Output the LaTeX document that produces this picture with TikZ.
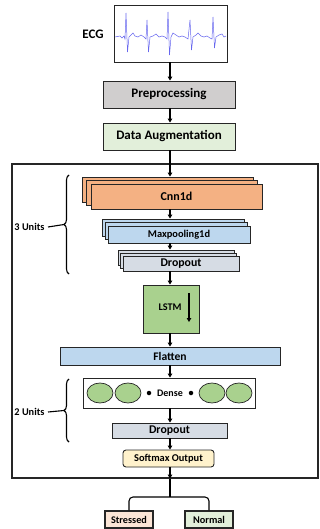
\documentclass[tikz,border=0pt]{standalone}
\usepackage{fontspec}
\setmainfont{Carlito}
\usetikzlibrary{positioning,arrows.meta,calc,decorations.pathreplacing,shapes.geometric}
\definecolor{prepgray}{HTML}{D0CECE}
\definecolor{auggreen}{HTML}{E2EFDA}
\definecolor{cnnorange}{HTML}{F4B183}
\definecolor{poolblue}{HTML}{BDD7EE}
\definecolor{dropgray}{HTML}{D6DCE4}
\definecolor{lstmgreen}{HTML}{A9D18E}
\definecolor{softyellow}{HTML}{FFF2CC}
\definecolor{stressred}{HTML}{FBE5D6}
\definecolor{ecgblue}{HTML}{6666EE}
\newcommand{\fs}[1]{\fontsize{#1}{#1}\selectfont\bfseries}

\begin{document}
\begin{tikzpicture}[
    x=1pt, y=-1pt,
    box/.style={draw=black!85, line width=0.9pt, inner sep=0pt, align=center},
    arr/.style={-{Triangle[length=4pt,width=4.5pt]}, line width=1.1pt},
    wire/.style={line width=1.1pt},
    brc/.style={decorate, decoration={brace, amplitude=5pt}, line width=1.1pt}
  ]
    \useasboundingbox (0,0) rectangle (320,529);

    % input signal
    \node[box, minimum width=113pt, minimum height=57pt] (ecg) at (170.5,33.5) {};
    \node[font=\fs{13}] (ecglabel) at (93,34) {ECG};
    \draw[ecgblue, line width=0.5pt]
      (115,37) -- (120,36) -- (122,38) -- (124,36) -- (125,39) -- (126,13) -- (127.5,52) -- (129,37)
      -- (131,35) -- (133,33) -- (135,36) -- (138,37) -- (141,35) -- (144,37) -- (146,39)
      -- (147,20) -- (148.5,52) -- (150,37) -- (153,36) -- (156,34) -- (159,37) -- (162,36)
      -- (165,37) -- (167,39) -- (168,12) -- (169.5,55) -- (171,37) -- (173,33) -- (176,35)
      -- (179,37) -- (182,36) -- (185,37) -- (188,39) -- (190,20) -- (191.5,50) -- (193,37)
      -- (196,35) -- (198,33) -- (201,36) -- (204,37) -- (207,36) -- (210,38) -- (212,39)
      -- (213,17) -- (214.5,48) -- (216,37) -- (219,35) -- (222,34) -- (224,37) -- (226,36);

    \node[box, fill=prepgray, minimum width=132pt, minimum height=27pt, font=\fs{13}] (pre) at (169,94.5) {Preprocessing};
    \node[box, fill=auggreen, minimum width=132pt, minimum height=27pt, font=\fs{13}] (aug) at (169,136.5) {Data Augmentation};

    % model frame
    \node[draw=black!85, line width=1.1pt, minimum width=306pt, minimum height=314pt, inner sep=0pt] (frame) at (165,321) {};
    \coordinate (axis) at (170,0);

    % stacked conv units
    \node[box, fill=cnnorange, minimum width=171pt, minimum height=25pt] (cnnC) at (167.5,189.5) {};
    \node[box, fill=cnnorange, minimum width=171pt, minimum height=25pt] (cnnB) at (172,193) {};
    \node[box, fill=cnnorange, minimum width=171pt, minimum height=25pt, font=\fs{12}] (cnn) at (176.5,196.5) {Cnn1d};

    \node[box, fill=poolblue, minimum width=142pt, minimum height=17pt] (poolC) at (173,227.5) {};
    \node[box, fill=poolblue, minimum width=142pt, minimum height=17pt] (poolB) at (176,231) {};
    \node[box, fill=poolblue, minimum width=142pt, minimum height=17pt, font=\fs{10.4}] (pool) at (179,234.5) {Maxpooling1d};

    \node[box, fill=dropgray, minimum width=116pt, minimum height=15pt] (dropC) at (176,257.5) {};
    \node[box, fill=dropgray, minimum width=116pt, minimum height=15pt] (dropB) at (178.5,260.5) {};
    \node[box, fill=dropgray, minimum width=116pt, minimum height=15pt, font=\fs{11.8}] (drop) at (181,263.5) {Dropout};

    \draw[brc] (69,274) -- (69,175) coordinate[midway, xshift=-5pt] (tip3);
    \node[font=\fs{10.3}, anchor=east] (units3) at (48,227) {3 Units};
    \draw[wire] (units3.east) -- (tip3);

    % recurrent part
    \node[box, fill=lstmgreen, minimum width=56pt, minimum height=48pt] (lstm) at (171,309) {};
    \node[font=\fs{10.2}] (lstmlabel) at (170,307) {LSTM};
    \coordinate (lstmtop) at (189,293);
    \coordinate (lstmbot) at (189,322);
    \draw[arr] (lstmtop) -- (lstmbot);

    \node[box, fill=poolblue, minimum width=220pt, minimum height=18pt, font=\fs{11.6}] (flat) at (170,356) {Flatten};

    % dense units
    \node[box, fill=white, minimum width=172pt, minimum height=30pt] (dense) at (169,393) {};
    \foreach \cx/\nm in {100/d1, 128/d2, 212/d3, 239/d4}
      \node[draw=black!85, line width=0.7pt, fill=lstmgreen, ellipse, minimum width=26pt, minimum height=20pt, inner sep=0pt] (\nm) at (\cx,393) {};
    \foreach \cx/\nm in {149/dot1, 191/dot2}
      \node[circle, fill=black, inner sep=0pt, minimum size=4.5pt] (\nm) at (\cx,393) {};
    \node[font=\fs{10}] (denselabel) at (170,393) {Dense};

    \node[box, fill=dropgray, minimum width=115pt, minimum height=15pt, font=\fs{11.8}] (drop2) at (169.5,430.5) {Dropout};

    \draw[brc] (69,442) -- (69,379) coordinate[midway, xshift=-5pt] (tip2);
    \node[font=\fs{10.3}, anchor=east] (units2) at (48,412) {2 Units};
    \draw[wire] (units2.east) -- (tip2);

    \node[box, fill=softyellow, rounded corners=3pt, minimum width=91pt, minimum height=17pt, font=\fs{10.4}] (soft) at (168.5,458.5) {Softmax Output};

    % outputs
    \node[box, fill=stressred, line width=1.1pt, minimum width=48pt, minimum height=17pt, font=\fs{10.2}] (stressed) at (129,519.5) {Stressed};
    \node[box, fill=auggreen, line width=1.1pt, minimum width=48pt, minimum height=17pt, font=\fs{10.3}] (normal) at (209,519.5) {Normal};
    \coordinate (split) at (170,497);

    % connectors
    \draw[arr] (ecg.south -| axis) -- (pre.north -| axis);
    \draw[arr] (pre.south -| axis) -- (aug.north -| axis);
    \draw[arr] (aug.south -| axis) -- (cnnC.north -| axis);
    \draw[arr] (cnn.south -| axis) -- (poolC.north -| axis);
    \draw[arr] (pool.south -| axis) -- (dropC.north -| axis);
    \draw[arr] (drop.south -| axis) -- (lstm.north -| axis);
    \draw[arr] (lstm.south -| axis) -- (flat.north -| axis);
    \draw[arr] (flat.south -| axis) -- (dense.north -| axis);
    \draw[arr] (dense.south -| axis) -- (drop2.north -| axis);
    \draw[arr] (drop2.south -| axis) -- (soft.north -| axis);
    \draw[arr] (soft.south -| axis) -- (frame.south -| axis);
    \draw[wire] (frame.south -| axis) -- (split);
    \draw[wire, rounded corners=4pt] (stressed.north) |- (split) -| (normal.north);
\end{tikzpicture}
\end{document}
